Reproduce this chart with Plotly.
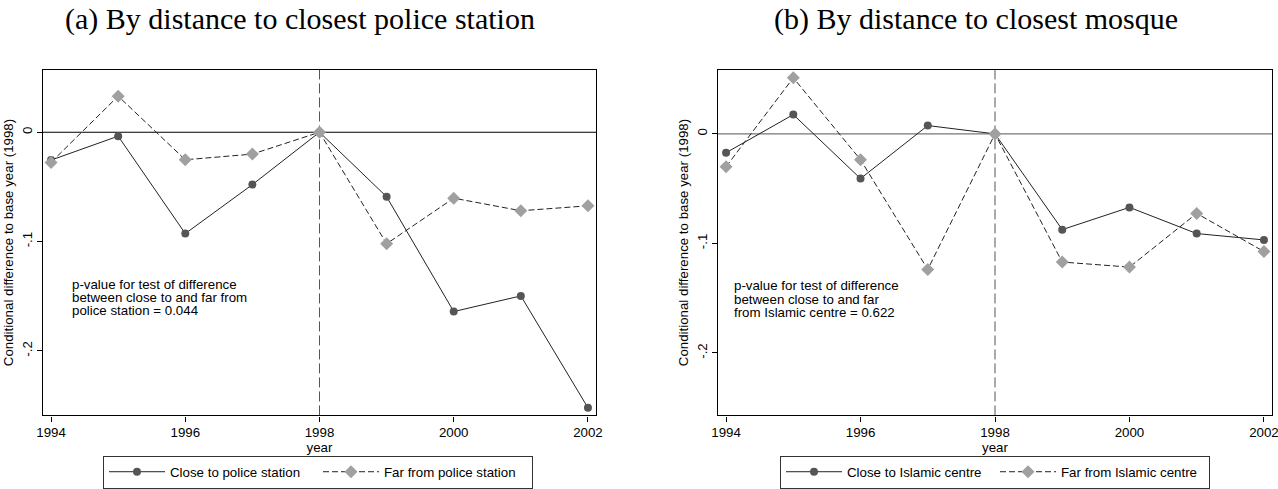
import plotly.graph_objects as go

years = [1994, 1995, 1996, 1997, 1998, 1999, 2000, 2001, 2002]
police_close = [-0.0255, -0.0036, -0.0927, -0.0479, 0.0, -0.059, -0.164, -0.1497, -0.252]
police_far = [-0.0276, 0.033, -0.0252, -0.020, 0.0, -0.102, -0.0603, -0.0718, -0.0673]
mosque_close = [-0.0172, 0.0176, -0.0408, 0.0076, 0.0, -0.0874, -0.0671, -0.091, -0.0968]
mosque_far = [-0.030, 0.0512, -0.0236, -0.1237, 0.0, -0.117, -0.1216, -0.0726, -0.1074]

x_ticks = [1994, 1996, 1998, 2000, 2002]
y_ticks = [-0.2, -0.1, 0]
y_ticktext = ["-.2", "-.1", "0"]
base_year = 1998

titles = ["(a) By distance to closest police station", "(b) By distance to closest mosque"]
names_a = ["Close to police station", "Far from police station"]
names_b = ["Close to Islamic centre", "Far from Islamic centre"]
note_a = ["p-value for test of difference", "between close to and far from", "police station = 0.044"]
note_b = ["p-value for test of difference", "between close to and far", "from Islamic centre = 0.622"]
ytitle = "Conditional difference to base year (1998)"

SANS = "Liberation Sans, Arial, sans-serif"
SERIF = "Liberation Serif, Times New Roman, serif"
W, H = 1278, 489
FS = 13.3

fig = go.Figure()

def add_pair(close, far, names, xa, ya, legend):
    fig.add_trace(go.Scatter(
        x=years, y=close, name=names[0], mode="lines+markers",
        line=dict(color="#222222", width=1),
        marker=dict(symbol="circle", size=8, color="#555555"),
        xaxis=xa, yaxis=ya, legend=legend))
    fig.add_trace(go.Scatter(
        x=years, y=far, name=names[1], mode="lines+markers",
        line=dict(color="#222222", width=1, dash="6px,3px"),
        marker=dict(symbol="diamond", size=10, color="#a0a0a0"),
        xaxis=xa, yaxis=ya, legend=legend))

add_pair(police_close, police_far, names_a, "x", "y", "legend")
add_pair(mosque_close, mosque_far, names_b, "x2", "y2", "legend2")

def px_x(p):
    return p / W

def px_y(p):
    return (H - p) / H

xcommon = dict(range=[1993.88, 2002.12], tickvals=x_ticks, ticks="outside", ticklen=5,
               tickcolor="#000", showline=True, linecolor="#000", linewidth=1.2, mirror=True,
               showgrid=False, zeroline=False, tickfont=dict(family=SANS, size=FS, color="#000"),
               ticklabeloverflow="allow",
               title=dict(text="year", font=dict(family=SANS, size=FS, color="#000"), standoff=0),
               automargin=False)
ycommon = dict(tickvals=y_ticks, ticktext=y_ticktext, ticks="outside", ticklen=5, tickangle=-90,
               tickcolor="#000", showline=True, linecolor="#000", linewidth=1.2, mirror=True,
               showgrid=False, zeroline=False, tickfont=dict(family=SANS, size=FS, color="#000"),
               title=dict(text=ytitle, font=dict(family=SANS, size=FS, color="#000"), standoff=2),
               automargin=False)

legcommon = dict(orientation="h", xanchor="center", y=px_y(475), yanchor="middle",
                 bordercolor="#333", borderwidth=1, bgcolor="white", itemwidth=56,
                 entrywidth=143, font=dict(family=SANS, size=FS, color="#000"), itemclick=False)

fig.update_layout(
    width=W, height=H, margin=dict(l=0, r=0, t=0, b=0),
    paper_bgcolor="white", plot_bgcolor="white",
    xaxis=dict(xcommon, domain=[px_x(43), px_x(596)], anchor="y"),
    yaxis=dict(ycommon, domain=[px_y(418), px_y(70)], range=[-0.259, 0.0573], anchor="x"),
    xaxis2=dict(xcommon, domain=[px_x(718), px_x(1272)], anchor="y2"),
    yaxis2=dict(ycommon, domain=[px_y(418), px_y(70)], range=[-0.257, 0.0587], anchor="x2"),
    legend=dict(legcommon, x=px_x(318)),
    legend2=dict(legcommon, x=px_x(995)),
    showlegend=True,
)

# reference lines
for xa, ya, hcol in [("x", "y", "#000000"), ("x2", "y2", "#777777")]:
    fig.add_shape(type="line", xref=f"{xa} domain", yref=ya, x0=0, x1=1, y0=0, y1=0,
                  line=dict(color=hcol, width=1.2), layer="below")
    fig.add_shape(type="line", xref=xa, yref=f"{ya} domain", x0=base_year, x1=base_year, y0=0, y1=1,
                  line=dict(color="#555555", width=1, dash="10px,4px"), layer="below")

# titles
fig.add_annotation(text=titles[0], xref="paper", yref="paper", x=px_x(300), y=px_y(19),
                   xanchor="center", yanchor="middle", showarrow=False,
                   font=dict(family=SERIF, size=30, color="#000"))
fig.add_annotation(text=titles[1], xref="paper", yref="paper", x=px_x(976), y=px_y(19),
                   xanchor="center", yanchor="middle", showarrow=False,
                   font=dict(family=SERIF, size=30, color="#000"))

# notes
for lines, xa, ya, x0, ys in [(note_a, "x", "y", 1994.28, [-0.1388, -0.1508, -0.1628]),
                               (note_b, "x2", "y2", 1994.09, [-0.1388, -0.1508, -0.1628])]:
    for t, yv in zip(lines, ys):
        fig.add_annotation(text=t, xref=xa, yref=ya, x=x0, y=yv, xanchor="left", yanchor="middle",
                           showarrow=False, font=dict(family=SANS, size=FS, color="#000"))

fig.write_html("out.html")
